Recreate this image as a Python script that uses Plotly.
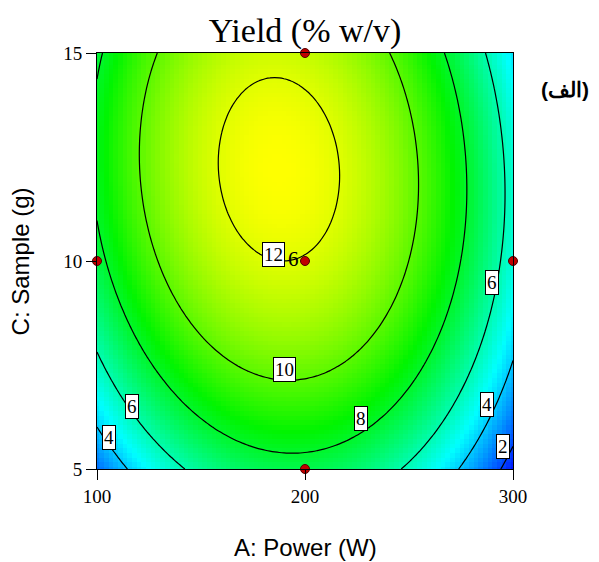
import numpy as np
import plotly.graph_objects as go

# ---- Data (fitted quadratic response surface, coded units) ----
# Yield = b0 + bA*a + bC*c + bAC*a*c + bAA*a^2 + bCC*c^2, a=(Power-200)/100, c=(Sample-10)/5
b0, bA, bC, bAC, bAA, bCC = 11.94, -1.15, 2.06, -0.517, -5.5, -2.41

# design points
design_power = [100, 200, 200, 200, 300]
design_sample = [10, 15, 10, 5, 10]
design_text = ["", "", "6", "", ""]

contour_levels = [2, 4, 6, 8, 10, 12]
label_text = ["12", "10", "8", "6", "4", "2", "6", "4"]
label_power = [184.8, 190.1, 227.1, 290.0, 287.6, 295.3, 117.0, 105.9]
label_sample = [10.15, 7.39, 6.21, 9.48, 6.55, 5.54, 6.50, 5.75]

x_ticks = [100, 200, 300]
y_ticks = [5, 10, 15]

# ---- surface grid ----
power = np.linspace(100, 300, 90)
sample = np.linspace(5, 15, 90)
P, S = np.meshgrid(power, sample)
a = (P - 200) / 100
c = (S - 10) / 5
Z = b0 + bA * a + bC * c + bAC * a * c + bAA * a ** 2 + bCC * c ** 2

cscale = [[0.0, "rgb(0,0,255)"], [0.25, "rgb(0,255,255)"], [0.5, "rgb(0,245,0)"],
          [0.75, "rgb(255,255,0)"], [1.0, "rgb(255,0,0)"]]

fig = go.Figure()
fig.add_trace(go.Heatmap(x=power, y=sample, z=Z, colorscale=cscale, zmin=1.0, zmax=16.3,
                         showscale=False, zsmooth=False, hoverinfo="skip"))
fig.add_trace(go.Contour(x=power, y=sample, z=Z,
                         contours=dict(start=contour_levels[0], end=contour_levels[-1],
                                       size=2, coloring="none"),
                         line=dict(color="black", width=1.2), showscale=False,
                         hoverinfo="skip"))
fig.add_trace(go.Scatter(x=design_power, y=design_sample, mode="markers+text",
                         text=design_text, textposition="middle left",
                         textfont=dict(family="Liberation Serif", size=21, color="black"),
                         marker=dict(color="#c00000", size=9,
                                     line=dict(color="#500000", width=1)),
                         cliponaxis=False, showlegend=False, hoverinfo="skip"))

for t, xp, yp in zip(label_text, label_power, label_sample):
    fig.add_annotation(x=xp, y=yp, text=t, showarrow=False,
                       font=dict(family="Liberation Serif", size=19, color="black"),
                       bgcolor="white", bordercolor="black", borderwidth=1, borderpad=1)

axis_common = dict(showline=True, linecolor="black", linewidth=1, mirror=True,
                   ticks="outside", ticklen=10, tickcolor="black", showgrid=False,
                   zeroline=False, tickfont=dict(family="Liberation Serif", size=19, color="black"))
fig.update_xaxes(range=[100, 300], tickvals=x_ticks, **axis_common)
fig.update_yaxes(range=[5, 15], tickvals=y_ticks, **axis_common)

fig.add_annotation(xref="paper", yref="paper", x=0.5, y=-0.189, text="A: Power (W)",
                   xanchor="center", yanchor="middle",
                   showarrow=False, font=dict(family="Liberation Sans", size=24, color="black"))
fig.add_annotation(xref="paper", yref="paper", x=-0.184, y=0.5, text="C: Sample (g)",
                   xanchor="center", yanchor="middle",
                   textangle=-90, showarrow=False,
                   font=dict(family="Liberation Sans", size=24, color="black"))
fig.add_annotation(xref="paper", yref="paper", x=1.126, y=0.912, text="<b>(الف)</b>",
                   xanchor="center", yanchor="middle",
                   showarrow=False, font=dict(family="Liberation Sans", size=21, color="black"))

fig.update_layout(
    width=599, height=562, autosize=False,
    margin=dict(l=89, r=94, t=45, b=101),
    paper_bgcolor="white", plot_bgcolor="white",
    title=dict(text="Yield (% w/v)", x=0.5, xref="paper", y=1 - 22 / 562, yref="container",
               yanchor="middle", xanchor="center",
               font=dict(family="Liberation Serif", size=34, color="black")),
    showlegend=False,
)

fig.write_html("out.html")
